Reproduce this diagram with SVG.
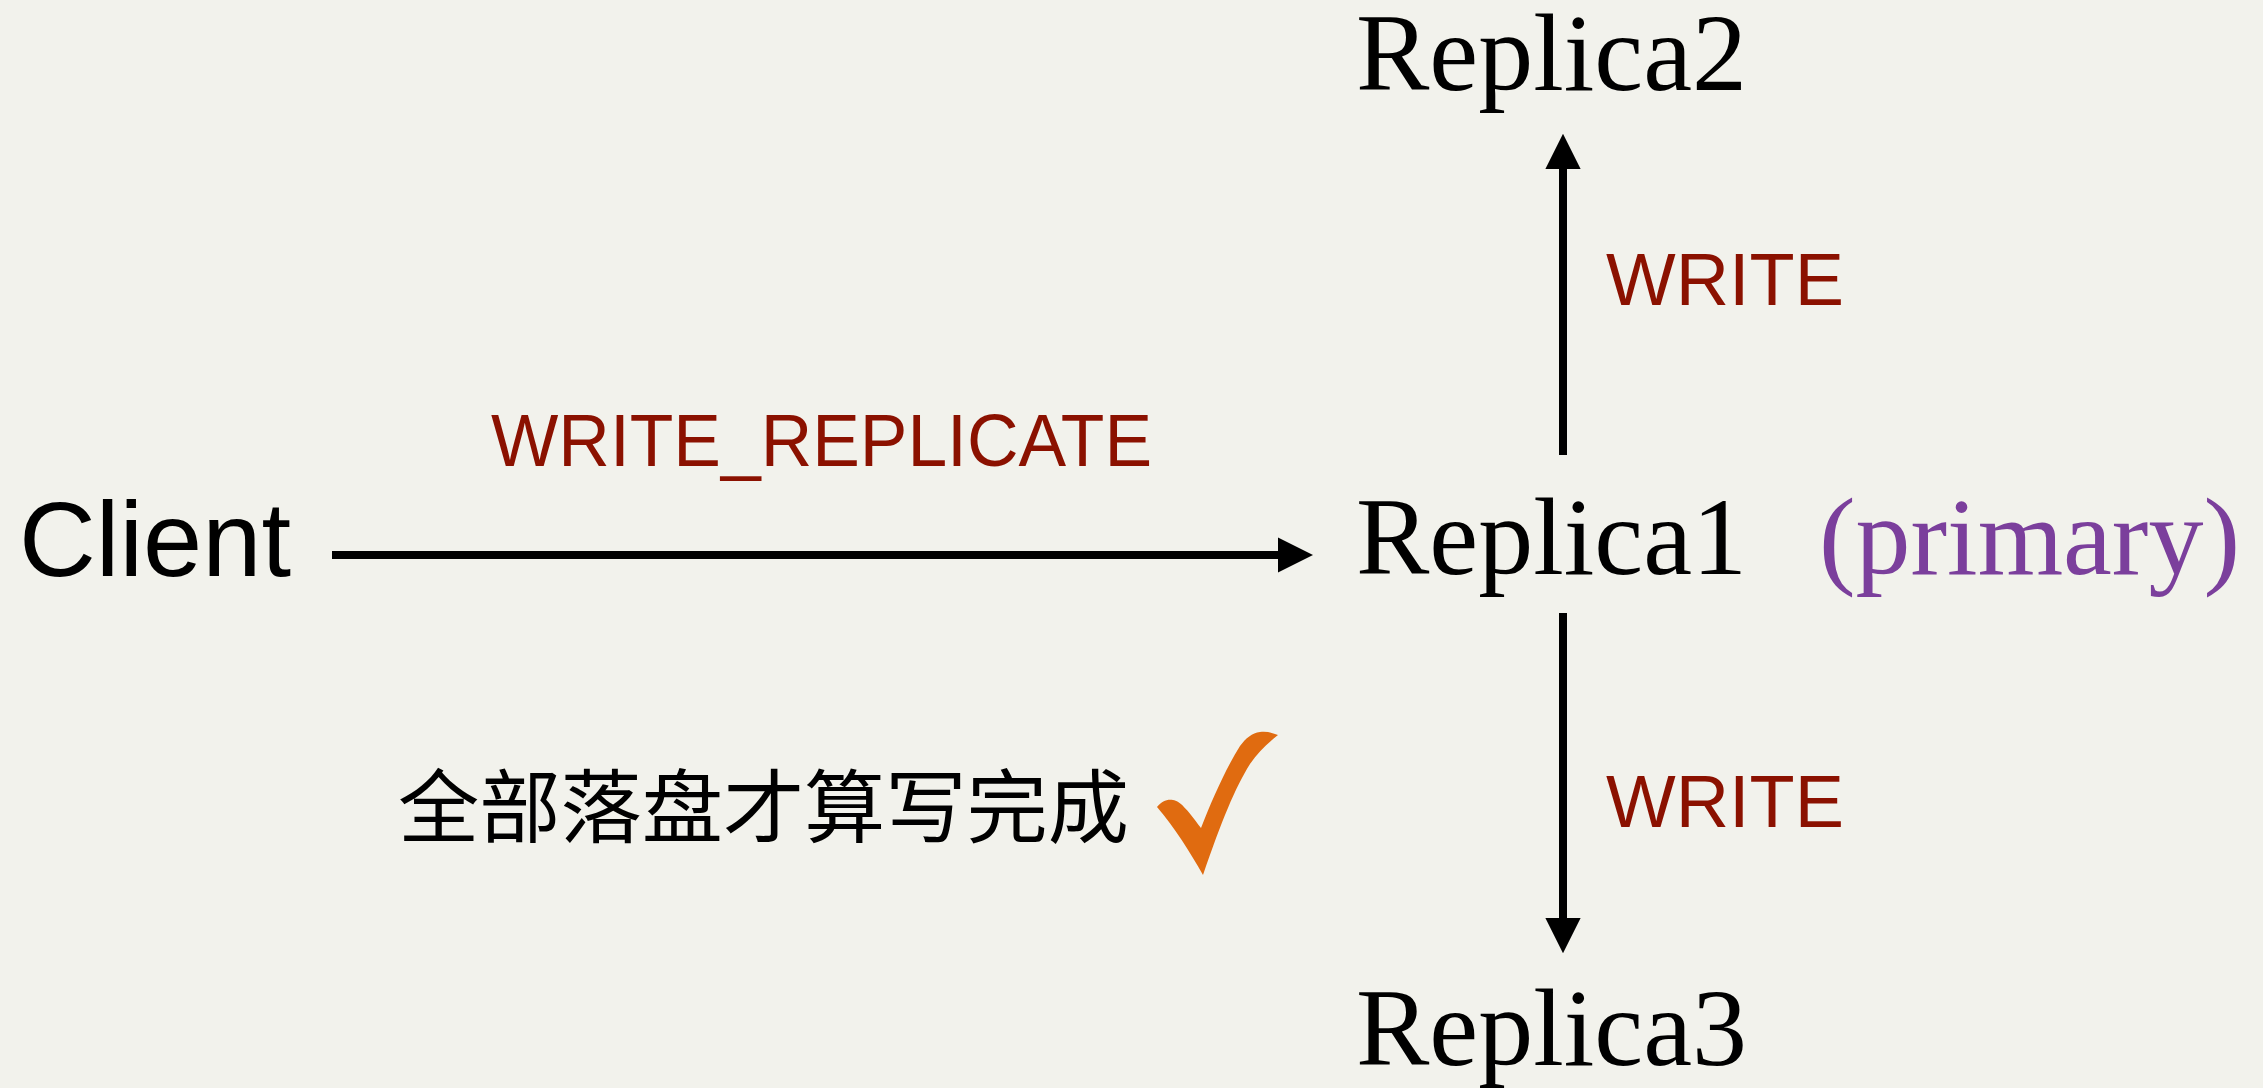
<svg xmlns="http://www.w3.org/2000/svg" width="2263" height="1088" viewBox="0 0 2263 1088">
<defs>
<style>
.node{font-family:"Liberation Serif","Times New Roman",serif;font-size:110px;fill:#000}
.client{font-family:"Liberation Sans",Arial,sans-serif;font-size:106px;fill:#000}
.lbl{font-family:"Liberation Sans",Arial,sans-serif;font-size:74px;fill:#8B1100}
.prim{font-family:"Liberation Serif","Times New Roman",serif;font-size:110px;fill:#7B3F9C}
.cn{font-family:"Noto Sans CJK SC","Noto Sans CJK JP",sans-serif;font-size:80px;fill:#000}
.edge{stroke:#000;stroke-width:8;fill:none}
</style>
<marker id="ah" viewBox="0 0 10 10" refX="0" refY="5" markerWidth="4.4" markerHeight="4.4" markerUnits="strokeWidth" orient="auto">
<path d="M0,0 L10,5 L0,10 Z" fill="#000"/>
</marker>
</defs>
<rect width="2263" height="1088" fill="#F2F2EC"/>
<g id="connectors">
<line class="edge" x1="332" y1="555" x2="1278" y2="555" marker-end="url(#ah)"/>
<line class="edge" x1="1563" y1="455" x2="1563" y2="169" marker-end="url(#ah)"/>
<line class="edge" x1="1563" y1="613" x2="1563" y2="918" marker-end="url(#ah)"/>
<text class="lbl" x="491" y="466" textLength="661" lengthAdjust="spacingAndGlyphs">WRITE_REPLICATE</text>
<text class="lbl" x="1606" y="305" textLength="238" lengthAdjust="spacingAndGlyphs">WRITE</text>
<text class="lbl" x="1606" y="827" textLength="238" lengthAdjust="spacingAndGlyphs">WRITE</text>
</g>
<g id="client"><text class="client" x="19" y="576" textLength="272" lengthAdjust="spacingAndGlyphs">Client</text></g>
<g id="replica1">
<text class="node" x="1356" y="574">Replica1</text>
<text class="prim" x="1819" y="574" textLength="421" lengthAdjust="spacingAndGlyphs">(primary)</text>
</g>
<g id="replica2"><text class="node" x="1356" y="90">Replica2</text></g>
<g id="replica3"><text class="node" x="1356" y="1065">Replica3</text></g>
<g id="note">
<text class="cn" x="398" y="836" textLength="731" lengthAdjust="spacingAndGlyphs">全部落盘才算写完成</text>
<path d="M1157,807 C1162,801 1167,799 1173,800 C1180,801 1186,808 1201,828 C1212,800 1225,770 1240,746 C1246,738 1252,733 1260,732 C1267,731 1273,733 1278,735 C1268,743 1258,752 1250,764 C1235,788 1222,820 1203,875 C1190,852 1175,828 1157,807 Z" fill="#E06B10"/>
</g>
</svg>
